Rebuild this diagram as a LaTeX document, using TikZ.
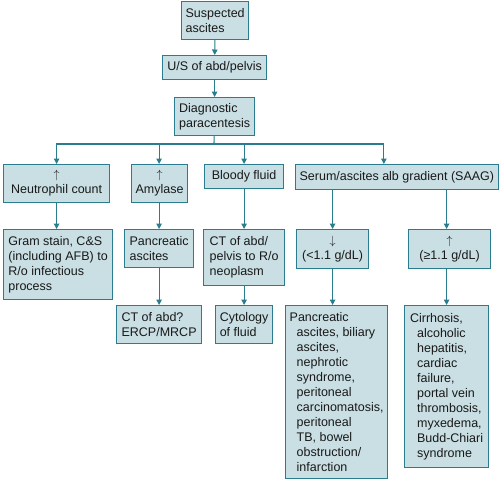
\documentclass[tikz,border=0pt]{standalone}
\usepackage{fontspec}
\setmainfont{Liberation Sans}
\usetikzlibrary{arrows.meta}
\definecolor{AscTeal}{HTML}{2A7D8E}
\definecolor{AscFill}{HTML}{C9DFE4}
\newcommand{\contd}{\hspace*{7pt}}
\tikzset{
  stepbox/.style={draw=AscTeal,line width=1.2pt,fill=AscFill,anchor=north west,inner sep=4pt,align=left,text=black!90},
  midbox/.style={stepbox,align=center},
  flow/.style={-{Triangle[length=5.5pt,width=5.5pt]},line width=1.1pt,draw=AscTeal},
  link/.style={line width=1.1pt,draw=AscTeal}
}
\begin{document}
\begin{tikzpicture}[x=1pt,y=-1pt,font=\fontsize{12.5}{15}\selectfont]
  \useasboundingbox (0,0) rectangle (500,480);
  % top column
  \node[stepbox,minimum width=66pt,minimum height=38pt] (susp) at (181,0.7) {Suspected\\ascites};
  \node[stepbox,minimum width=104pt,minimum height=24pt] (us) at (162,55) {U/S of abd/pelvis};
  \node[stepbox,minimum width=80pt,minimum height=38pt] (diag) at (174,97) {Diagnostic\\paracentesis};
  \coordinate (bus) at (214,144);
  % first row
  \node[midbox,minimum width=106pt,minimum height=38pt] (neut) at (3,164) {$\uparrow$\\Neutrophil count};
  \node[midbox,minimum width=53pt,minimum height=38pt] (amyl) at (131,164) {$\uparrow$\\Amylase};
  \node[stepbox,minimum width=79pt,minimum height=24pt] (blood) at (204,164) {Bloody fluid};
  \node[stepbox,minimum width=200pt,minimum height=25pt] (saag) at (295,164) {Serum/ascites alb gradient (SAAG)};
  % second row
  \node[stepbox,minimum width=109pt,minimum height=70pt] (gram) at (3,229) {Gram stain, C\&S\\(including AFB) to\\R/o infectious\\process};
  \node[stepbox,minimum width=69pt,minimum height=38pt] (panc) at (124,229) {Pancreatic\\ascites};
  \node[stepbox,minimum width=81pt,minimum height=56pt] (ctneo) at (203,229) {CT of abd/\\pelvis to R/o\\neoplasm};
  \node[midbox,minimum width=72pt,minimum height=39pt] (low) at (296,229) {$\downarrow$\\(<1.1 g/dL)};
  \node[midbox,minimum width=82pt,minimum height=39pt] (high) at (408,229) {$\uparrow$\\(≥1.1 g/dL)};
  % third row
  \node[stepbox,minimum width=85pt,minimum height=38pt] (ercp) at (116,305) {CT of abd?\\ERCP/MRCP};
  \node[stepbox,minimum width=57pt,minimum height=38pt] (cyto) at (215,305) {Cytology\\of fluid};
  \node[stepbox,minimum width=102pt,minimum height=173pt] (lowlist) at (285,305) {Pancreatic\\\contd ascites, biliary\\\contd ascites,\\\contd nephrotic\\\contd syndrome,\\\contd peritoneal\\\contd carcinomatosis,\\\contd peritoneal\\\contd TB, bowel\\\contd obstruction/\\\contd infarction};
  \node[stepbox,minimum width=84pt,minimum height=162pt] (highlist) at (404,305) {Cirrhosis,\\\contd alcoholic\\\contd hepatitis,\\\contd cardiac\\\contd failure,\\\contd portal vein\\\contd thrombosis,\\\contd myxedema,\\\contd Budd-Chiari\\\contd syndrome};
  % connectors
  \draw[flow] (susp) -- (us);
  \draw[flow] (us) -- (diag);
  \draw[link] (diag) -- (bus);
  \draw[flow] (bus) -| (neut);
  \draw[flow] (bus) -| (panc.north |- amyl.north);
  \draw[flow] (bus) -| (blood);
  \draw[flow] (bus) -| ([xshift=-13pt]saag.north);
  \draw[flow] (neut) -- (neut |- gram.north);
  \draw[flow] (panc.north |- amyl.south) -- (panc);
  \draw[flow] (panc) -- (ercp);
  \draw[flow] (blood) -- (ctneo);
  \draw[flow] (ctneo) -- (cyto);
  \draw[flow] (low.north |- saag.south) -- (low);
  \draw[flow] (low) -- (low |- lowlist.north);
  \draw[flow] (highlist.north |- saag.south) -- (highlist.north |- high.north);
  \draw[flow] (highlist.north |- high.south) -- (highlist);
\end{tikzpicture}
\end{document}
